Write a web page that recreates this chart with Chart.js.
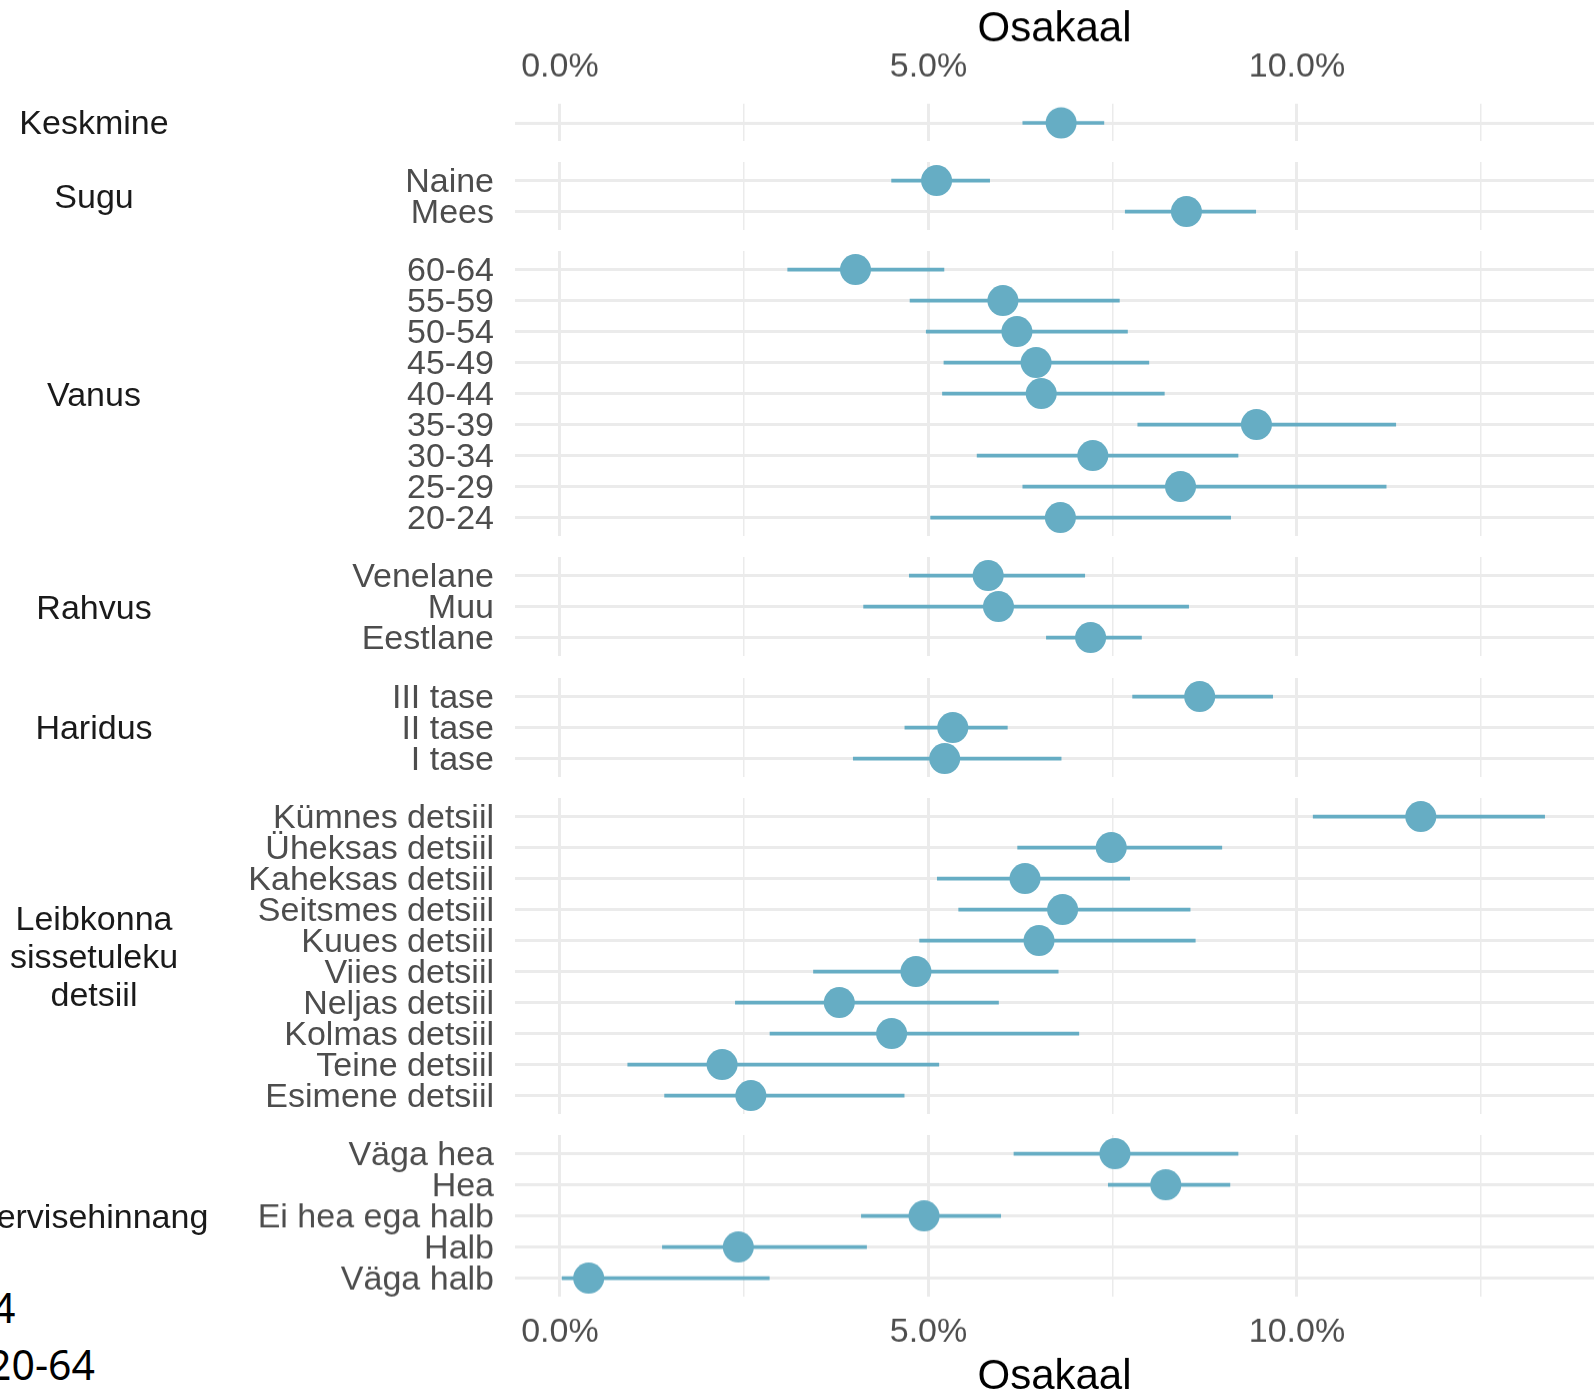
<!DOCTYPE html>
<html>
<head>
<meta charset="utf-8">
<title>Osakaal</title>
<script src="https://cdn.jsdelivr.net/npm/chart.js@4.4.0/dist/chart.umd.min.js"></script>
<style>
  html, body { margin: 0; padding: 0; background: #fff; }
  #page { position: relative; width: 1594px; height: 1397px; overflow: hidden; background: #fff; }
  .panel { position: absolute; left: 0; width: 1594px; }
  .strip {
    position: absolute; left: -56px; width: 300px; text-align: center;
    font: 34px "Liberation Sans", Arial, sans-serif; line-height: 38px;
    color: #1a1a1a; white-space: nowrap; transform: translateY(-50%);
  }
  .note { position: absolute; font: 41px "Noto Sans", sans-serif; line-height: 41px; color: #000; white-space: nowrap; }
</style>
</head>
<body>
<div id="page">
  <div class="note" style="left:-8px; top:1287px;">4</div>
  <div class="note" style="left:-12px; top:1344px;">20-64</div>
</div>
<script>
// facet groups and their rows (top to bottom)
var groupNames = ['Keskmine', 'Sugu', 'Vanus', 'Rahvus', 'Haridus', 'Leibkonna\nsissetuleku\ndetsiil', 'Tervisehinnang'];

var rowLabels = [
    [''],
    ['Naine', 'Mees'],
    ['60-64', '55-59', '50-54', '45-49', '40-44', '35-39', '30-34', '25-29', '20-24'],
    ['Venelane', 'Muu', 'Eestlane'],
    ['III tase', 'II tase', 'I tase'],
    ['Kümnes detsiil', 'Üheksas detsiil', 'Kaheksas detsiil', 'Seitsmes detsiil', 'Kuues detsiil',
     'Viies detsiil', 'Neljas detsiil', 'Kolmas detsiil', 'Teine detsiil', 'Esimene detsiil'],
    ['Väga hea', 'Hea', 'Ei hea ega halb', 'Halb', 'Väga halb']
];

// share in percent, with lower and upper interval bounds
var shares = [
    [6.80],
    [5.11, 8.50],
    [4.01, 6.01, 6.20, 6.46, 6.53, 9.45, 7.23, 8.42, 6.79],
    [5.81, 5.95, 7.20],
    [8.68, 5.33, 5.22],
    [11.68, 7.48, 6.31, 6.82, 6.50, 4.83, 3.79, 4.50, 2.20, 2.59],
    [7.53, 8.22, 4.94, 2.42, 0.39]
];
var lower = [
    [6.28],
    [4.50, 7.67],
    [3.09, 4.75, 4.97, 5.21, 5.19, 7.84, 5.66, 6.28, 5.03],
    [4.74, 4.12, 6.60],
    [7.77, 4.68, 3.98],
    [10.22, 6.21, 5.12, 5.41, 4.88, 3.44, 2.38, 2.85, 0.92, 1.42],
    [6.16, 7.44, 4.09, 1.39, 0.03]
];
var upper = [
    [7.38],
    [5.83, 9.44],
    [5.21, 7.59, 7.70, 7.99, 8.20, 11.34, 9.20, 11.21, 9.10],
    [7.12, 8.53, 7.89],
    [9.67, 6.07, 6.80],
    [13.36, 8.98, 7.73, 8.55, 8.62, 6.76, 5.95, 7.04, 5.14, 4.67],
    [9.20, 9.09, 5.98, 4.16, 2.84]
];

var xTicks = [0, 2.5, 5, 7.5, 10, 12.5];

var ROW = 31, EXPAND = 0.6, GAP = 21.1, TOP_AXIS = 103.4, LABEL_W = 515, PAGE_H = 1397;
var X_MIN = -0.61, X_MAX = 14.03;
var blue = '#66adc4', gridColor = '#ebebeb', textGray = '#4d4d4d';
var fontFamily = '"Liberation Sans", Arial, sans-serif';

// no automatic label padding, the panels are laid out by hand
function noPadding(s) {
    s.paddingTop = 0;
    s.paddingBottom = 0;
    s.paddingLeft = 0;
    s.paddingRight = 0;
}

var page = document.getElementById('page');
var panelTop = TOP_AXIS;

groupNames.forEach(function (name, g) {
    var labels = rowLabels[g];
    var n = labels.length;
    var h = (n - 1 + 2 * EXPAND) * ROW;
    var first = g === 0;
    var last = g === groupNames.length - 1;
    var bottomAxis = PAGE_H - (panelTop + h);

    var box = document.createElement('div');
    box.className = 'panel';
    box.style.top = (first ? 0 : panelTop) + 'px';
    box.style.height = (h + (first ? TOP_AXIS : 0) + (last ? bottomAxis : 0)) + 'px';
    var canvas = document.createElement('canvas');
    box.appendChild(canvas);
    page.appendChild(box);

    new Chart(canvas, {
        type: 'bar',
        data: {
            datasets: [{
                type: 'bar',
                indexAxis: 'y',
                data: labels.map(function (l, i) { return { x: [lower[g][i], upper[g][i]], y: i }; }),
                backgroundColor: blue,
                barThickness: 3,
                borderWidth: 0,
                order: 2
            }, {
                type: 'scatter',
                data: labels.map(function (l, i) { return { x: shares[g][i], y: i }; }),
                pointRadius: 15.5,
                pointBackgroundColor: blue,
                pointBorderWidth: 0,
                borderWidth: 0,
                order: 1
            }]
        },
        options: {
            animation: false,
            responsive: true,
            maintainAspectRatio: false,
            events: [],
            layout: { padding: 0, autoPadding: false },
            plugins: { legend: { display: false }, tooltip: { enabled: false } },
            scales: {
                x: {
                    type: 'linear',
                    position: first ? 'top' : 'bottom',
                    offset: false,
                    beginAtZero: false,
                    min: X_MIN,
                    max: X_MAX,
                    afterBuildTicks: function (s) {
                        s.ticks = xTicks.map(function (v) { return { value: v }; });
                    },
                    afterFit: function (s) {
                        s.height = first ? TOP_AXIS : (last ? bottomAxis : 0);
                        noPadding(s);
                    },
                    grid: {
                        offset: false,
                        color: gridColor,
                        drawTicks: false,
                        lineWidth: function (ctx) {
                            return ctx.tick && ctx.tick.value % 5 === 0 ? 3 : 1.5;
                        }
                    },
                    border: { display: false },
                    ticks: {
                        display: first || last,
                        autoSkip: false,
                        maxRotation: 0,
                        padding: first ? 16 : 15.5,
                        color: textGray,
                        font: { family: fontFamily, size: 34 },
                        callback: function (v) { return v % 5 === 0 ? v.toFixed(1) + '%' : ''; }
                    },
                    title: {
                        display: first || last,
                        text: 'Osakaal',
                        color: '#000',
                        font: { family: fontFamily, size: 42, lineHeight: 1 },
                        padding: first ? { top: 8.5, bottom: 0 } : { top: 0, bottom: -1 }
                    }
                },
                y: {
                    type: 'linear',
                    reverse: true,
                    offset: false,
                    beginAtZero: false,
                    min: -EXPAND,
                    max: n - 1 + EXPAND,
                    afterBuildTicks: function (s) {
                        s.ticks = labels.map(function (l, i) { return { value: i }; });
                    },
                    afterFit: function (s) {
                        s.width = LABEL_W;
                        noPadding(s);
                    },
                    grid: { offset: false, color: gridColor, lineWidth: 3, drawTicks: false },
                    border: { display: false },
                    ticks: {
                        autoSkip: false,
                        padding: 21,
                        labelOffset: 2,
                        color: textGray,
                        font: { family: fontFamily, size: 34 },
                        callback: function (v) { return labels[v]; }
                    }
                }
            }
        }
    });

    var strip = document.createElement('div');
    strip.className = 'strip';
    strip.style.top = (panelTop + h / 2) + 'px';
    strip.innerHTML = name.split('\n').join('<br>');
    page.appendChild(strip);

    panelTop += h + GAP;
});
</script>
</body>
</html>
